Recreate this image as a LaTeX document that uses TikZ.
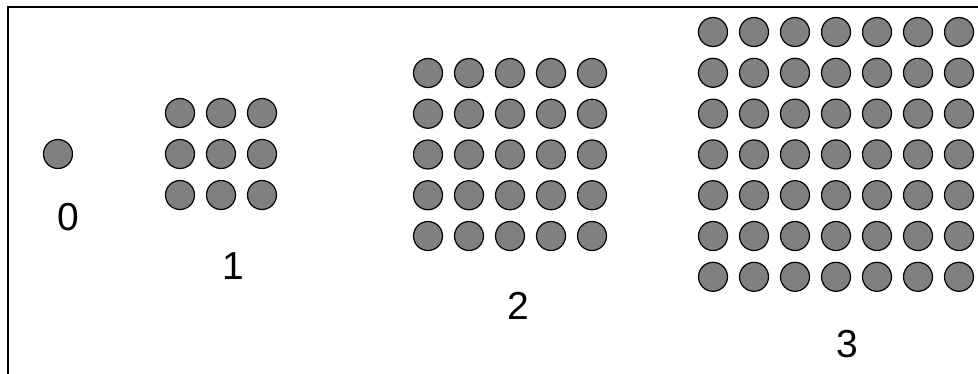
\documentclass[tikz,border=0pt]{standalone}
\usepackage{fontspec}
\setmainfont{Liberation Sans}
\tikzset{
  dot/.style={fill={rgb,255:red,128;green,128;blue,128}, draw=black, line width=1.2pt},
  lbl/.style={font=\fontsize{39}{44}\selectfont, inner sep=0pt, anchor=center},
  frameline/.style={line width=2.6pt, line cap=butt}
}
\begin{document}
\begin{tikzpicture}[x=1pt,y=-1pt]
\useasboundingbox (0,0) rectangle (978,373);
% frame
\draw[frameline] (8,380) -- (8,7) -- (990,7);
% group 0
\fill[dot] (58,154) circle (14.5);
\node[lbl] (l0) at (68,217) {0};
% group 1 (3x3)
\foreach \i in {0,1,2} \foreach \j in {0,1,2}
  \filldraw[dot] ({180+41*\i},{113+41*\j}) circle (14.5);
\node[lbl] (l1) at (233,266) {1};
% group 2 (5x5)
\foreach \i in {0,...,4} \foreach \j in {0,...,4}
  \filldraw[dot] ({428+41*\i},{73+40.75*\j}) circle (14.5);
\node[lbl] (l2) at (518,306) {2};
% group 3 (7x7)
\foreach \i in {0,...,6} \foreach \j in {0,...,6}
  \filldraw[dot] ({713+41*\i},{32+40.8*\j}) circle (14.5);
\node[lbl] (l3) at (847,344) {3};
\end{tikzpicture}
\end{document}
